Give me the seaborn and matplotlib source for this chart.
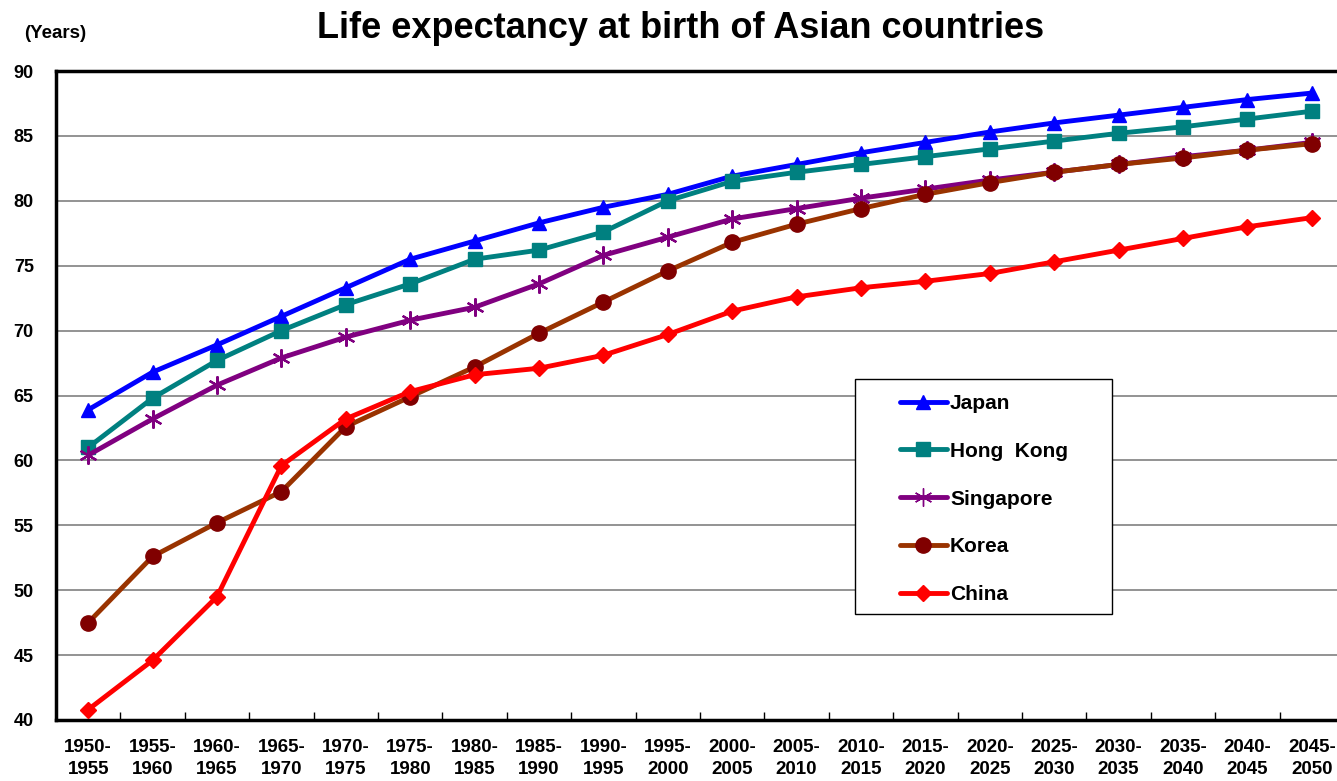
import matplotlib
matplotlib.use("Agg")
import matplotlib.pyplot as plt
from matplotlib.lines import Line2D
from matplotlib.patches import Rectangle
import seaborn as sns
import pandas as pd

periods = ["1950-\n1955", "1955-\n1960", "1960-\n1965", "1965-\n1970", "1970-\n1975",
           "1975-\n1980", "1980-\n1985", "1985-\n1990", "1990-\n1995", "1995-\n2000",
           "2000-\n2005", "2005-\n2010", "2010-\n2015", "2015-\n2020", "2020-\n2025",
           "2025-\n2030", "2030-\n2035", "2035-\n2040", "2040-\n2045", "2045-\n2050"]

japan = [63.9, 66.8, 68.9, 71.1, 73.3, 75.5, 76.9, 78.3, 79.5, 80.5,
         81.9, 82.8, 83.7, 84.5, 85.3, 86.0, 86.6, 87.2, 87.8, 88.3]
hong_kong = [61.0, 64.8, 67.7, 70.0, 72.0, 73.6, 75.5, 76.2, 77.6, 80.0,
             81.5, 82.2, 82.8, 83.4, 84.0, 84.6, 85.2, 85.7, 86.3, 86.9]
singapore = [60.4, 63.2, 65.8, 67.9, 69.5, 70.8, 71.8, 73.6, 75.8, 77.2,
             78.6, 79.4, 80.2, 80.9, 81.6, 82.2, 82.8, 83.4, 83.9, 84.5]
korea = [47.5, 52.6, 55.2, 57.6, 62.6, 64.9, 67.2, 69.8, 72.2, 74.6,
         76.8, 78.2, 79.4, 80.5, 81.4, 82.2, 82.8, 83.3, 83.9, 84.4]
china = [40.8, 44.6, 49.5, 59.6, 63.2, 65.3, 66.6, 67.1, 68.1, 69.7,
         71.5, 72.6, 73.3, 73.8, 74.4, 75.3, 76.2, 77.1, 78.0, 78.7]

countries = ["Japan", "Hong  Kong", "Singapore", "Korea", "China"]
values = [japan, hong_kong, singapore, korea, china]

# style per series: line colour, marker, marker colour, marker size
styles = {
    "Japan": ("#0000FF", "^", "#0000FF", 10.5),
    "Hong  Kong": ("#008080", "s", "#008080", 9.5),
    "Singapore": ("#800080", (6, 2, 0), "#800080", 13),
    "Korea": ("#993300", "o", "#800000", 11),
    "China": ("#FF0000", "D", "#FF0000", 8.5),
}

df = pd.DataFrame({
    "period": [i for _ in countries for i in range(len(periods))],
    "country": [c for c in countries for _ in periods],
    "value": [v for series in values for v in series],
})

sns.set_theme(style="white")
plt.rcParams["font.family"] = ["Liberation Sans", "DejaVu Sans"]
plt.rcParams["font.weight"] = "bold"
plt.rcParams["text.color"] = "black"
plt.rcParams["xtick.color"] = "black"
plt.rcParams["ytick.color"] = "black"

fig = plt.figure(figsize=(13.37, 7.81), dpi=100)
ax = fig.add_axes([56 / 1337, 1 - 720 / 781, 1288 / 1337, 649 / 781])

for c in countries:
    color, marker, mcolor, ms = styles[c]
    sub = df[df["country"] == c]
    sns.lineplot(data=sub, x="period", y="value", ax=ax, color=color, lw=3.5,
                 marker=marker, markersize=ms, markerfacecolor=mcolor,
                 markeredgecolor=mcolor, markeredgewidth=1.6 if c == "Singapore" else 1,
                 legend=False, zorder=3)

ax.set_xlim(-0.5, len(periods) - 0.5)
ax.set_ylim(40, 90)
ax.set_yticks(range(40, 91, 5))
ax.set_xticks(range(len(periods)))
ax.set_xticklabels(periods, fontsize=13.5, fontweight="bold", linespacing=1.32)
ax.set_xticks([i + 0.5 for i in range(len(periods) - 1)], minor=True)
ax.tick_params(axis="x", which="major", length=0, pad=14)
ax.tick_params(axis="x", which="minor", direction="in", length=6, width=1, color="black", bottom=True)
ax.tick_params(axis="y", length=0, pad=16, labelsize=13)
for lab in ax.get_yticklabels():
    lab.set_fontweight("bold")
ax.set_xlabel("")
ax.set_ylabel("")

ax.grid(axis="y", color="#808080", lw=1.2, zorder=0)
ax.grid(axis="x", visible=False)
for side in ["left", "bottom", "top", "right"]:
    ax.spines[side].set_color("black")
    ax.spines[side].set_linewidth(2.5)

fig.text(681 / 1337, 1 - 28 / 781, "Life expectancy at birth of Asian countries",
         ha="center", va="center", fontsize=26, fontweight="bold")
fig.text(55 / 1337, 1 - 33 / 781, "(Years)", ha="center", va="center",
         fontsize=13.5, fontweight="bold")

# legend frame drawn as a figure rectangle, entries placed inside it
fig.patches.append(Rectangle((855 / 1337, 1 - 614 / 781), 257 / 1337, 235 / 781,
                             transform=fig.transFigure, facecolor="white",
                             edgecolor="black", lw=1, zorder=4))
handles = []
for c in countries:
    color, marker, mcolor, ms = styles[c]
    handles.append(Line2D([], [], color=color, lw=3.5, marker=marker,
                          markersize=ms, markerfacecolor=mcolor, markeredgecolor=mcolor))
leg = fig.legend(handles, countries, loc="upper left",
                 bbox_to_anchor=(900 / 1337, 1 - 394 / 781),
                 frameon=False, prop={"weight": "bold", "size": 15},
                 handlelength=2.25, labelspacing=1.38, borderpad=0,
                 handletextpad=0.15, borderaxespad=0)
leg.set_zorder(5)

fig.savefig("out.png", dpi=100)
